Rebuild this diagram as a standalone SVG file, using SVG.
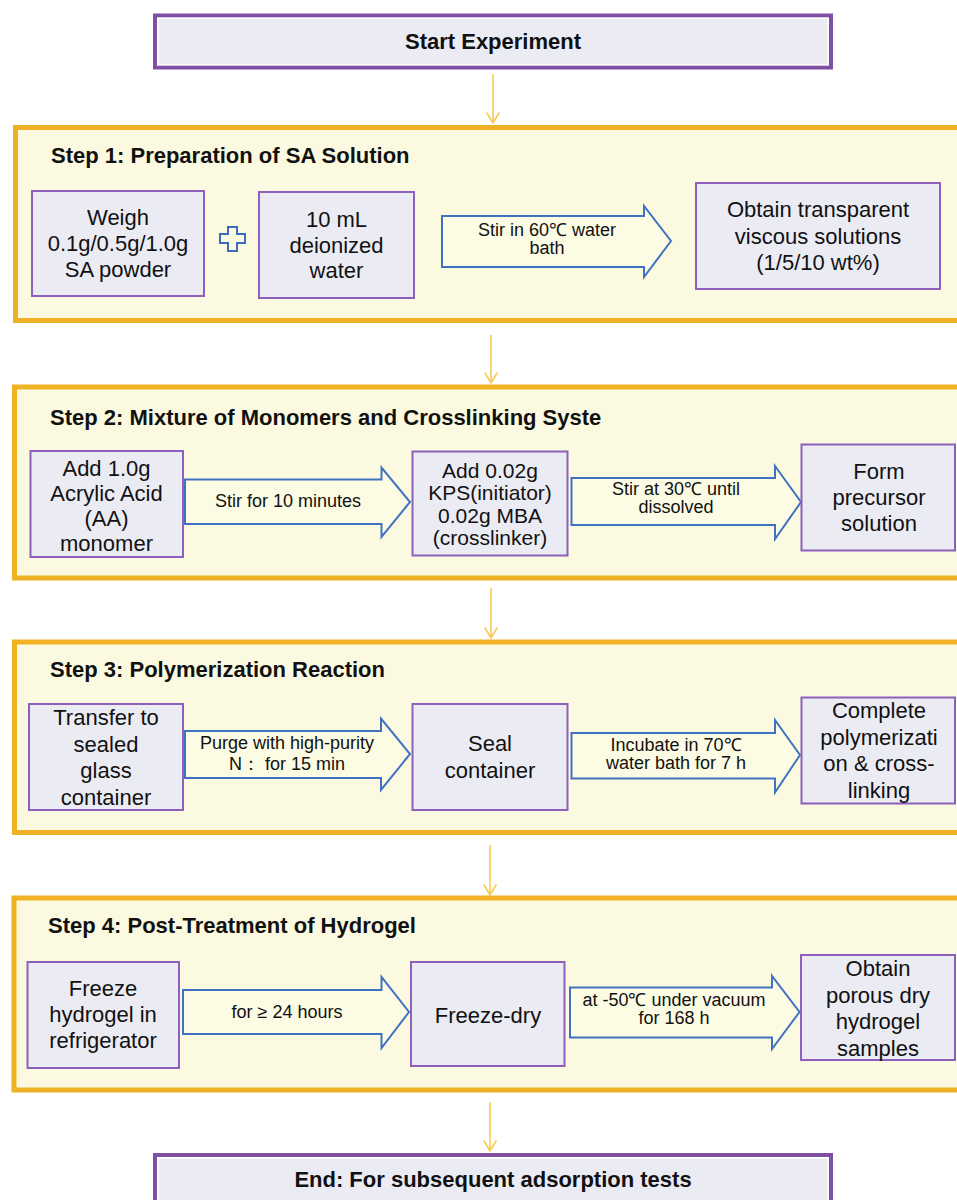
<svg xmlns="http://www.w3.org/2000/svg" width="957" height="1200" viewBox="0 0 957 1200">
<style>
.bg{fill:#ffffff}
.step{fill:#FBFAE0;stroke:#EFB224;stroke-width:5}
.term{fill:#EBEBF4;stroke:#7E4FA3;stroke-width:4}
.termin{fill:none;stroke:#ffffff;stroke-width:1.5}
.node{fill:#EBEBF4;stroke:#8E5FBB;stroke-width:2}
.barrow{fill:#FCFBE3;stroke:#4172C2;stroke-width:2;stroke-linejoin:miter}
.conn{stroke:#F7CB55;stroke-width:1.6;fill:none}
.head{stroke:#F7CB55;stroke-width:1.6;fill:none;stroke-linecap:round;stroke-linejoin:round}
.plus{fill:none;stroke:#3C6CC0;stroke-width:2}
text{font-family:"Liberation Sans",Arial,sans-serif;fill:#111111}
.t{font-size:22px;text-anchor:middle}
.ts{font-size:21px;text-anchor:middle}
.a{font-size:18px;text-anchor:middle}
.title{font-size:22px;font-weight:bold}
.tb{font-size:22px;font-weight:bold;text-anchor:middle}
</style>
<defs>
<marker id="v" viewBox="0 0 12 14" refX="11" refY="7" markerWidth="12" markerHeight="14" markerUnits="userSpaceOnUse" orient="auto">
<path d="M1,1 L11,7 L1,13" class="head"/>
</marker>
</defs>
<rect class="bg" x="0" y="0" width="957" height="1200"/>

<g id="containers">
<rect id="step1-box" class="step" x="15.5" y="127.5" width="960" height="193"/>
<rect id="step2-box" class="step" x="14.5" y="387" width="960" height="191"/>
<rect id="step3-box" class="step" x="14.5" y="642" width="960" height="190.5"/>
<rect id="step4-box" class="step" x="14" y="898" width="960" height="192"/>
</g>

<g id="connectors">
<line class="conn" x1="493" y1="74" x2="493" y2="123" marker-end="url(#v)"/>
<line class="conn" x1="491" y1="335" x2="491" y2="383" marker-end="url(#v)"/>
<line class="conn" x1="491" y1="588" x2="491" y2="638" marker-end="url(#v)"/>
<line class="conn" x1="490" y1="845" x2="490" y2="895" marker-end="url(#v)"/>
<line class="conn" x1="490" y1="1102" x2="490" y2="1151" marker-end="url(#v)"/>
</g>

<g id="start">
<rect class="term" x="155" y="15.5" width="676" height="52"/>
<rect class="termin" x="157.8" y="18.3" width="670.4" height="46.4"/>
<text class="tb" x="493" y="49">Start Experiment</text>
</g>

<g id="step1">
<text class="title" x="51" y="163">Step 1: Preparation of SA Solution</text>
<g id="s1-weigh">
<rect class="node" x="32" y="191" width="172" height="105"/>
<text class="t" x="118" y="225">Weigh</text>
<text class="t" x="118" y="251">0.1g/0.5g/1.0g</text>
<text class="t" x="118" y="277">SA powder</text>
</g>
<g id="s1-plus">
<path class="plus" d="M228,227 H237 V234 H245 V243 H237 V251 H228 V243 H220 V234 H228 Z"/>
</g>
<g id="s1-water">
<rect class="node" x="259" y="192" width="155" height="106"/>
<text class="t" x="336.5" y="227">10 mL</text>
<text class="t" x="336.5" y="252.5">deionized</text>
<text class="t" x="336.5" y="278">water</text>
</g>
<g id="s1-arrow">
<path class="barrow" d="M442,216 H644 V206 L671,241 L644,277 V267 H442 Z"/>
<text class="a" x="547" y="236">Stir in 60℃ water</text>
<text class="a" x="547" y="254">bath</text>
</g>
<g id="s1-obtain">
<rect class="node" x="696" y="183" width="244" height="106"/>
<text class="t" x="818" y="217">Obtain transparent</text>
<text class="t" x="818" y="243.5">viscous solutions</text>
<text class="t" x="818" y="270">(1/5/10 wt%)</text>
</g>
</g>

<g id="step2">
<text class="title" x="50" y="425">Step 2: Mixture of Monomers and Crosslinking Syste</text>
<g id="s2-add">
<rect class="node" x="30.5" y="451" width="152.5" height="106"/>
<text class="t" x="106.5" y="476">Add 1.0g</text>
<text class="t" x="106.5" y="501">Acrylic Acid</text>
<text class="t" x="106.5" y="526">(AA)</text>
<text class="t" x="106.5" y="551">monomer</text>
</g>
<g id="s2-arrow1">
<path class="barrow" d="M185,479.5 H381.5 V467.5 L410,502 L381.5,537 V524 H185 Z"/>
<text class="a" x="288" y="507">Stir for 10 minutes</text>
</g>
<g id="s2-kps">
<rect class="node" x="412.5" y="451.5" width="155" height="104"/>
<text class="ts" x="490" y="477.5">Add 0.02g</text>
<text class="ts" x="490" y="500">KPS(initiator)</text>
<text class="ts" x="490" y="522.5">0.02g MBA</text>
<text class="ts" x="490" y="545">(crosslinker)</text>
</g>
<g id="s2-arrow2">
<path class="barrow" d="M571.5,478 H775 V466 L801,502 L775,539 V525 H571.5 Z"/>
<text class="a" x="676" y="495">Stir at 30℃ until</text>
<text class="a" x="676" y="513">dissolved</text>
</g>
<g id="s2-form">
<rect class="node" x="801.5" y="444.5" width="153.5" height="106"/>
<text class="t" x="879" y="479">Form</text>
<text class="t" x="879" y="505">precursor</text>
<text class="t" x="879" y="531">solution</text>
</g>
</g>

<g id="step3">
<text class="title" x="50" y="676.5">Step 3: Polymerization Reaction</text>
<g id="s3-transfer">
<rect class="node" x="29" y="704" width="154" height="106"/>
<text class="t" x="106" y="725">Transfer to</text>
<text class="t" x="106" y="751.5">sealed</text>
<text class="t" x="106" y="778">glass</text>
<text class="t" x="106" y="804.5">container</text>
</g>
<g id="s3-arrow1">
<path class="barrow" d="M185,731 H381 V718.5 L410,754 L381,790 V778 H185 Z"/>
<text class="a" x="287" y="749">Purge with high-purity</text>
<text class="a" x="287" y="770">N：  for 15 min</text>
</g>
<g id="s3-seal">
<rect class="node" x="412.5" y="704" width="155" height="106"/>
<text class="t" x="490" y="751">Seal</text>
<text class="t" x="490" y="778">container</text>
</g>
<g id="s3-arrow2">
<path class="barrow" d="M571.5,733 H775 V720 L800,755 L775,792.5 V778.5 H571.5 Z"/>
<text class="a" x="676" y="751">Incubate in 70℃</text>
<text class="a" x="676" y="769">water bath for 7 h</text>
</g>
<g id="s3-complete">
<rect class="node" x="801.5" y="697.5" width="153.5" height="106"/>
<text class="t" x="879" y="718">Complete</text>
<text class="t" x="879" y="744.5">polymerizati</text>
<text class="t" x="879" y="771">on &amp; cross-</text>
<text class="t" x="879" y="797.5">linking</text>
</g>
</g>

<g id="step4">
<text class="title" x="48" y="933">Step 4: Post-Treatment of Hydrogel</text>
<g id="s4-freeze">
<rect class="node" x="27.5" y="962" width="151.5" height="106"/>
<text class="t" x="103" y="996">Freeze</text>
<text class="t" x="103" y="1022">hydrogel in</text>
<text class="t" x="103" y="1048">refrigerator</text>
</g>
<g id="s4-arrow1">
<path class="barrow" d="M183,990 H381.5 V977 L409,1012 L381.5,1048 V1034 H183 Z"/>
<text class="a" x="287" y="1018">for ≥ 24 hours</text>
</g>
<g id="s4-freezedry">
<rect class="node" x="411" y="962" width="153.5" height="104"/>
<text class="t" x="488" y="1022.5">Freeze-dry</text>
</g>
<g id="s4-arrow2">
<path class="barrow" d="M570,987.5 H772 V976 L799.5,1012 L772,1049 V1037.5 H570 Z"/>
<text class="a" x="674" y="1006">at -50℃ under vacuum</text>
<text class="a" x="674" y="1024">for 168 h</text>
</g>
<g id="s4-obtain">
<rect class="node" x="801" y="955" width="154" height="105"/>
<text class="t" x="878" y="976">Obtain</text>
<text class="t" x="878" y="1002.5">porous dry</text>
<text class="t" x="878" y="1029">hydrogel</text>
<text class="t" x="878" y="1055.5">samples</text>
</g>
</g>

<g id="end">
<rect class="term" x="155" y="1155" width="676" height="60"/>
<rect class="termin" x="157.8" y="1157.8" width="670.4" height="60"/>
<text class="tb" x="493" y="1187">End: For subsequent adsorption tests</text>
</g>
</svg>
